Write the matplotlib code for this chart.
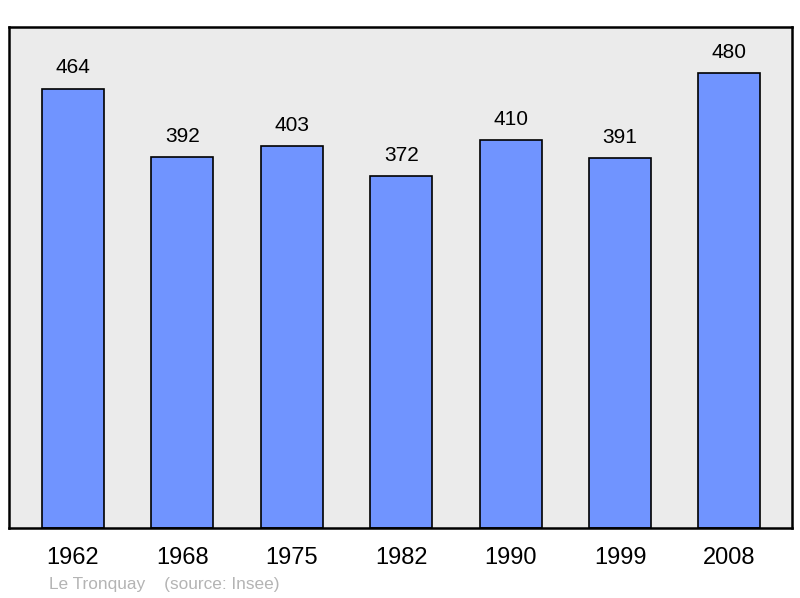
import matplotlib
matplotlib.use("Agg")
import matplotlib.pyplot as plt

years = ["1962", "1968", "1975", "1982", "1990", "1999", "2008"]
population = [464, 392, 403, 372, 410, 391, 480]

plt.rcParams["font.family"] = ["Liberation Sans", "DejaVu Sans"]

fig = plt.figure(figsize=(8, 5.98), dpi=100)
ax = fig.add_axes([9 / 800, 1 - 528 / 598, 783 / 800, 501 / 598])
ax.set_facecolor("#ebebeb")

x = range(len(years))
bars = ax.bar(x, population, width=0.567, color="#7094ff", edgecolor="black", linewidth=1.2)

for bar, val in zip(bars, population):
    ax.annotate(str(val), (bar.get_x() + bar.get_width() / 2, val),
                xytext=(0, 8), textcoords="offset points",
                ha="center", va="bottom", fontsize=15)

ax.set_xlim(-0.585, 6.572)
ax.set_ylim(0, 529)
ax.set_xticks(list(x))
ax.set_xticklabels(years, fontsize=17)
ax.tick_params(axis="x", length=0, pad=14)
ax.set_yticks([])
for s in ax.spines.values():
    s.set_linewidth(1.8)

fig.text(49 / 800, 1 - 585 / 598, "Le Tronquay    (source: Insee)",
         color="#b4b4b4", fontsize=12.4, va="center", ha="left")

fig.savefig("out.png", dpi=100)
